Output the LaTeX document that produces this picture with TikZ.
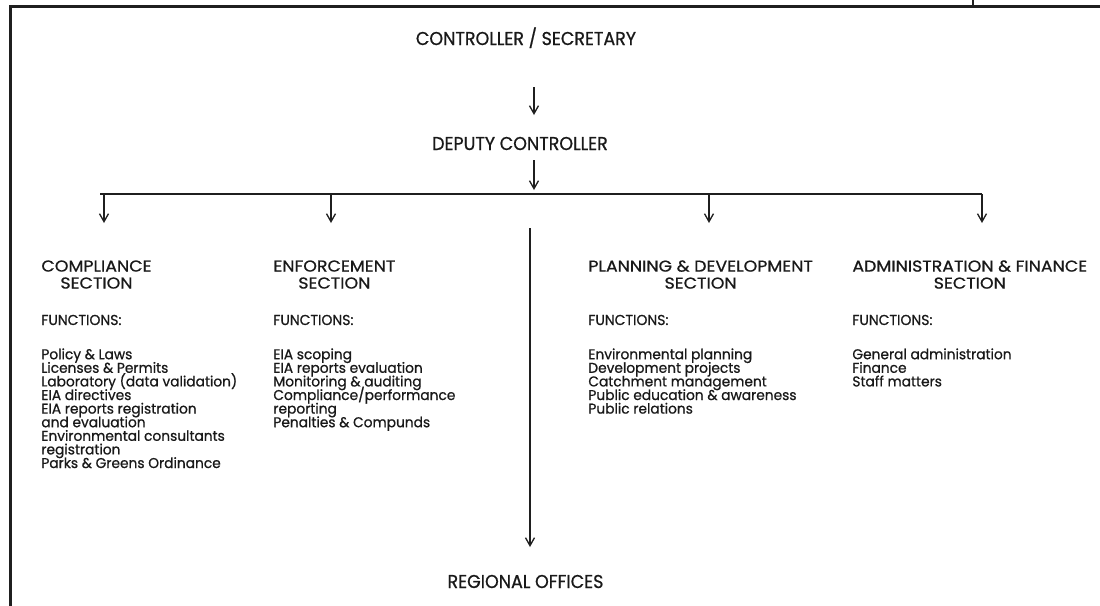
\documentclass[tikz,border=0pt]{standalone}
\usepackage{fontspec}
\setmainfont{Poppins}[FakeStretch=0.97, FakeBold=0.8]
\newfontfamily\headfont{Poppins}[FakeStretch=0.94, FakeBold=0.8]
\newfontfamily\titlefont{Poppins}[FakeStretch=1.1, FakeBold=0.8]
\newcommand\tightlines{\lineskiplimit -10pt\relax}
\usetikzlibrary{arrows.meta}

\tikzset{
  head/.style={inner sep=0pt, anchor=base, font=\headfont\fontsize{9.3}{11}\selectfont},
  sectitle/.style={inner sep=0pt, anchor=north west, align=center,
    font={\titlefont\fontsize{7.9}{8.5}\selectfont\tightlines}},
  funclabel/.style={inner sep=0pt, anchor=base west, font=\fontsize{7.2}{6.8}\selectfont},
  funclist/.style={inner sep=0pt, anchor=north west, align=left,
    font={\fontsize{7.1}{6.8}\selectfont\tightlines}},
  link/.style={line width=0.65pt, draw=black!88}
}

\begin{document}
\begin{tikzpicture}[x=0.5pt, y=-0.5pt, >={Straight Barb[length=4pt,width=4.5pt]}, text=black!90]

            \useasboundingbox (0,0) rectangle (1100,606);

            % frame
            \draw[line width=1.5pt, black!88] (10.5,606) -- (10.5,6.3) -- (1100,6.3);
            \draw[line width=0.6pt, black!88] (973,0) -- (973,6);

            \node (ctrl) [head] at (526,45) {CONTROLLER / SECRETARY};
            \node (deputy) [head] at (520,150) {DEPUTY CONTROLLER};
            \node (regional) [head] at (525.5,588) {REGIONAL OFFICES};

            \coordinate (ctrl-out) at (534,87);
            \coordinate (deputy-in) at (534,115);
            \coordinate (deputy-out) at (534,160);
            \coordinate (hub) at (534,190);
            \draw[link,->] (ctrl-out) -- (deputy-in);
            \draw[link,->] (deputy-out) -- (hub);

            % bus to the sections
            \coordinate (bus-l) at (100,194);
            \coordinate (bus-r) at (982,194);
            \draw[line width=0.9pt, black!88] (bus-l) -- (bus-r);
            \foreach \x in {104,331,709,982}
                \draw[link,->] (\x,194) -- (\x,223);

            % line down to the regional offices
            \coordinate (reg-top) at (530,228);
            \coordinate (reg-in) at (530,547);
            \draw[link,->] (reg-top) -- (reg-in);

            % compliance
            \node (comp) [sectitle] at (41,260) {COMPLIANCE\\SECTION};
            \node (comp-f) [funclabel] at (41,325) {FUNCTIONS:};
            \node (comp-l) [funclist] at (41,348) {Policy \& Laws\\Licenses \& Permits\\Laboratory (data validation)\\EIA directives\\EIA reports registration\\and evaluation\\Environmental consultants\\registration\\Parks \& Greens Ordinance};

            % enforcement
            \node (enf) [sectitle] at (273,260) {ENFORCEMENT\\SECTION};
            \node (enf-f) [funclabel] at (273,325) {FUNCTIONS:};
            \node (enf-l) [funclist] at (273,348) {EIA scoping\\EIA reports evaluation\\Monitoring \& auditing\\Compliance/performance\\reporting\\Penalties \& Compunds};

            % planning
            \node (plan) [sectitle] at (588,260) {PLANNING \& DEVELOPMENT\\SECTION};
            \node (plan-f) [funclabel] at (588,325) {FUNCTIONS:};
            \node (plan-l) [funclist] at (588,348) {Environmental planning\\Development projects\\Catchment management\\Public education \& awareness\\Public relations};

            % administration
            \node (admin) [sectitle] at (852,260) {ADMINISTRATION \& FINANCE\\SECTION};
            \node (admin-f) [funclabel] at (852,325) {FUNCTIONS:};
            \node (admin-l) [funclist] at (852,348) {General administration\\Finance\\Staff matters};

        \end{tikzpicture}
\end{document}
